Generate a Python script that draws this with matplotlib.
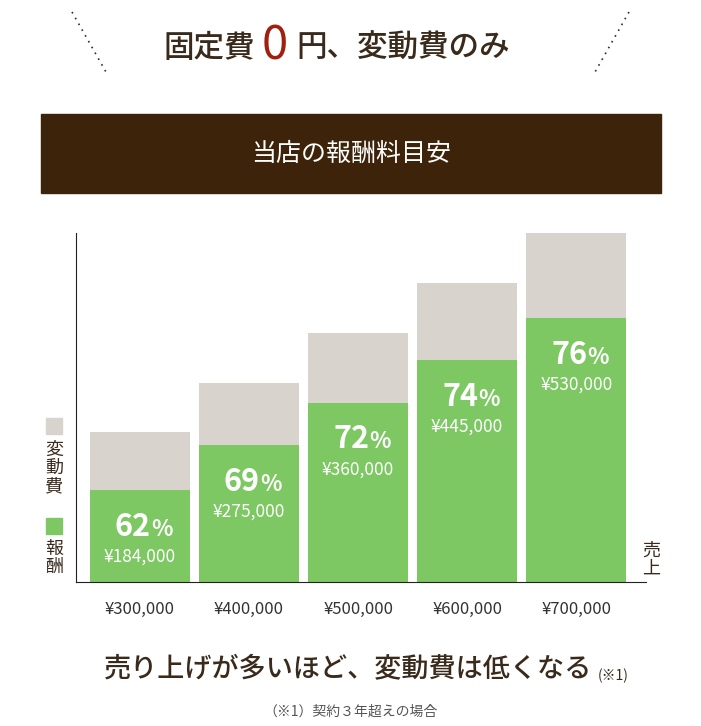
import matplotlib
matplotlib.use("Agg")
import matplotlib.pyplot as plt
from matplotlib.patches import Rectangle
from matplotlib.lines import Line2D

plt.rcParams["font.family"] = "Noto Sans CJK JP"

W, H = 701, 726
sales = [300000, 400000, 500000, 600000, 700000]
pay = [184000, 275000, 360000, 445000, 530000]
pct = ["62", "69", "72", "74", "76"]
xlabels = ["¥300,000", "¥400,000", "¥500,000", "¥600,000", "¥700,000"]

GREEN = "#7dc863"
GRAY = "#d9d3ce"
BROWN = "#3d2309"
TXT = "#3a2a1c"
RED = "#a11f0c"


def fx(x):
    return x / W


def fy(y):
    return 1 - y / H


fig = plt.figure(figsize=(W / 100, H / 100), dpi=100)

# header
fig.text(fx(255), fy(48), "固定費", fontsize=22, color=TXT, va="center", ha="right",
         fontweight="medium")
fig.text(fx(275), fy(46), "0", fontsize=34, color=RED, va="center", ha="center")
fig.text(fx(296), fy(48), "円、変動費のみ", fontsize=22, color=TXT, va="center", ha="left",
         fontweight="medium")
fig.add_artist(Line2D([fx(72), fx(106)], [fy(12), fy(72)], ls=(0, (1, 3)), color=TXT, lw=1.2))
fig.add_artist(Line2D([fx(629), fx(595)], [fy(12), fy(72)], ls=(0, (1, 3)), color=TXT, lw=1.2))

fig.add_artist(Rectangle((fx(41), fy(193)), fx(620), 79 / H, color=BROWN))
fig.text(fx(351), fy(154), "当店の報酬料目安", fontsize=18, color="white", ha="center", va="center")

# chart
ax = fig.add_axes([fx(76), fy(582), fx(570), 349 / H])
xs = range(len(sales))
ax.bar(xs, sales, width=0.92, color=GRAY)
ax.bar(xs, pay, width=0.92, color=GREEN)
ax.set_xlim(-0.587, 4.64)
ax.set_ylim(0, 700000)
for s in ["top", "right"]:
    ax.spines[s].set_visible(False)
ax.spines["left"].set_color("#222222")
ax.spines["bottom"].set_color("#222222")
ax.set_yticks([])
ax.set_xticks(list(xs))
ax.set_xticklabels(xlabels, fontsize=12, color="#333333")
ax.tick_params(axis="x", length=0, pad=14)
for i in xs:
    top = pay[i]
    ax.text(i + 0.1, top - 92000, pct[i], fontsize=22, fontweight="bold",
            color="white", ha="right", va="baseline")
    ax.text(i + 0.1, top - 92000, "%", fontsize=16, fontweight="bold",
            color="white", ha="left", va="baseline")
    ax.text(i, top - 134000, f"¥{pay[i]:,}", fontsize=12.5, color="white",
            ha="center", va="center")

# legend
fig.add_artist(Rectangle((fx(46), fy(434)), fx(16), 16 / H, color=GRAY))
fig.text(fx(54), fy(468), "変\n動\n費", fontsize=13, color=TXT, ha="center",
         va="center", linespacing=1.0)
fig.add_artist(Rectangle((fx(46), fy(534)), fx(16), 16 / H, color=GREEN))
fig.text(fx(54), fy(558), "報\n酬", fontsize=13, color=TXT, ha="center",
         va="center", linespacing=1.0)
fig.text(fx(651), fy(560), "売\n上", fontsize=13, color=TXT, ha="center",
         va="center", linespacing=1.0)

# footer
fig.text(fx(592), fy(670), "売り上げが多いほど、変動費は低くなる", fontsize=19.5,
         color=TXT, ha="right", va="center", fontweight="medium")
fig.text(fx(598), fy(676), "(※1)", fontsize=10, color=TXT, ha="left", va="center")
fig.text(fx(351), fy(712), "（※1）契約３年超えの場合", fontsize=10, color="#555555",
         ha="center", va="center")

fig.savefig("out.png", dpi=100, facecolor="white")
